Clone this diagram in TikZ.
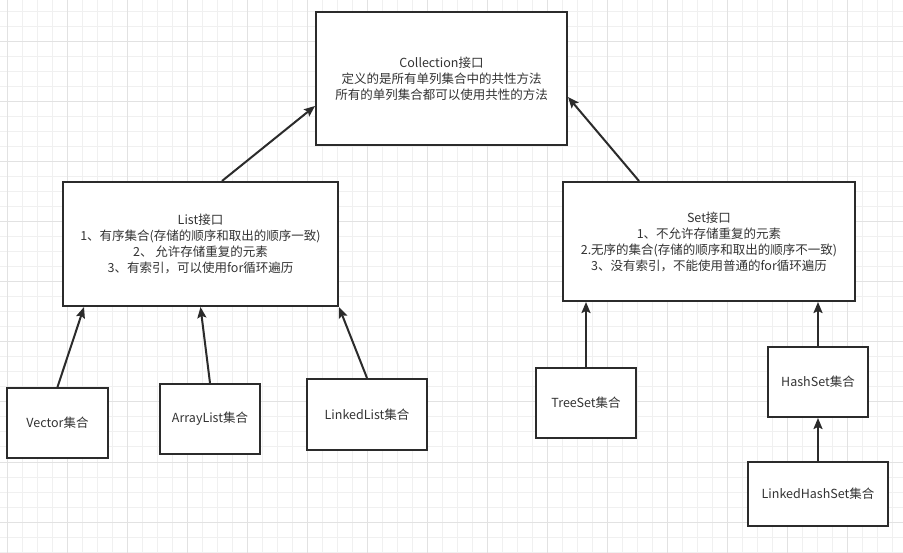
\documentclass[tikz,border=0pt]{standalone}
\usepackage{fontspec}
\setmainfont{Noto Sans CJK SC}
\usetikzlibrary{arrows.meta}
\definecolor{txt}{HTML}{333333}
\definecolor{edge}{HTML}{2B2B2B}
\definecolor{gridminor}{HTML}{F0F0F0}
\definecolor{gridmajor}{HTML}{E2E2E2}
\tikzset{
  box/.style={draw=edge, line width=2pt, fill=white, align=center, text=txt,
    inner sep=0pt, font=\fontsize{12.5}{16}\selectfont},
  link/.style={draw=edge, line width=2pt, -{Stealth[length=11pt,width=9pt,inset=2pt]}}
}
\begin{document}
\begin{tikzpicture}[x=1pt,y=-1pt]
\useasboundingbox (0,0) rectangle (903,553);
\fill[white] (0,0) rectangle (903,553);
\foreach \i in {0,...,60} {
  \draw[gridminor, line width=1pt] ({7+15*\i},0) -- ({7+15*\i},553);
}
\foreach \j in {-1,...,37} {
  \draw[gridminor, line width=1pt] (0,{12+15*\j}) -- (903,{12+15*\j});
}
\foreach \i in {0,...,15} {
  \draw[gridmajor, line width=1pt] ({7+60*\i},0) -- ({7+60*\i},553);
}
\foreach \j in {0,...,9} {
  \draw[gridmajor, line width=1pt] (0,{-18+60*\j}) -- (903,{-18+60*\j});
}

\node[box, minimum width=251pt, minimum height=133pt] (coll) at (441.5,78.5)
  {Collection接口\\定义的是所有单列集合中的共性方法\\所有的单列集合都可以使用共性的方法};
\node[box, minimum width=275pt, minimum height=124pt] (list) at (200.5,244)
  {List接口\\1、有序集合(存储的顺序和取出的顺序一致)\\2、 允许存储重复的元素\\3、有索引，可以使用for循环遍历};
\node[box, minimum width=292pt, minimum height=119pt] (set) at (709,241.5)
  {Set接口\\1、不允许存储重复的元素\\2.无序的集合(存储的顺序和取出的顺序不一致)\\3、没有索引，不能使用普通的for循环遍历};
\node[box, minimum width=101pt, minimum height=70pt] (vector) at (57.5,423) {Vector集合};
\node[box, minimum width=100pt, minimum height=70pt] (arraylist) at (210,419) {ArrayList集合};
\node[box, minimum width=120pt, minimum height=71pt] (linkedlist) at (367,414.5) {LinkedList集合};
\node[box, minimum width=100pt, minimum height=70pt] (treeset) at (586,403) {TreeSet集合};
\node[box, minimum width=100pt, minimum height=70pt] (hashset) at (818,382) {HashSet集合};
\node[box, minimum width=140pt, minimum height=64pt] (lhs) at (818,494) {LinkedHashSet集合};

\draw[link] ([xshift=21.5pt]list.north) -- ([yshift=-27.5pt]coll.west);
\draw[link] ([xshift=-70pt]set.north) -- ([yshift=-18.5pt]coll.east);
\draw[link] (vector.north) -- ([xshift=-116.5pt]list.south);
\draw[link] (arraylist.north) -- (list.south);
\draw[link] (linkedlist.north) -- (list.south east);
\draw[link] (treeset.north) -- ([xshift=-123pt]set.south);
\draw[link] (hashset.north) -- ([xshift=109pt]set.south);
\draw[link] (lhs.north) -- (hashset.south);
\end{tikzpicture}
\end{document}
